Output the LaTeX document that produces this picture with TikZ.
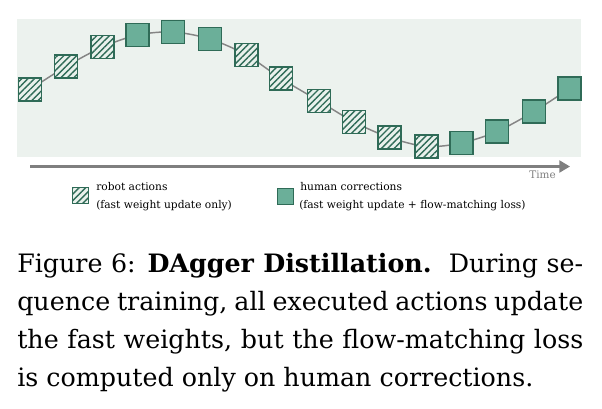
\documentclass[tikz,border=0pt]{standalone}
\usepackage{fontspec}
\setmainfont{DejaVu Serif}
\usetikzlibrary{patterns.meta,arrows.meta,backgrounds}
\definecolor{bgcol}{HTML}{ECF2EE}
\definecolor{sqedge}{HTML}{2F6B57}
\definecolor{solidfill}{HTML}{6BAF99}
\definecolor{hatchbg}{HTML}{E9F1EC}
\definecolor{curvecol}{HTML}{858585}
\definecolor{axiscol}{HTML}{7F7F7F}
\begin{document}
\begin{tikzpicture}[x=0.75pt,y=-0.75pt,
  hatchbox/.style={draw=sqedge, line width=1.1pt, minimum size=17pt, inner sep=0pt,
    preaction={fill=hatchbg},
    pattern={Lines[angle=45,distance=3.4pt,line width=1.05pt]}, pattern color=sqedge},
  solidbox/.style={draw=sqedge, line width=1.1pt, fill=solidfill, minimum size=17pt, inner sep=0pt},
  smallbox/.style={minimum size=12pt, line width=1pt},
  curve/.style={draw=curvecol, line width=1.1pt},
  legtext/.style={anchor=base west, inner sep=0pt, font=\fontsize{8pt}{10pt}\selectfont},
  captext/.style={anchor=base west, inner sep=0pt, font=\fontsize{19pt}{28.5pt}\selectfont}
]
\useasboundingbox (0,0) rectangle (602,408);
% squares
\node[hatchbox] (s1) at (30,89.5) {};
\node[hatchbox] (s2) at (66,66.5) {};
\node[hatchbox] (s3) at (102.5,47) {};
\node[solidbox] (s4) at (137.5,35) {};
\node[solidbox] (s5) at (173,32) {};
\node[solidbox] (s6) at (210,39) {};
\node[hatchbox] (s7) at (246.5,55) {};
\node[hatchbox] (s8) at (281,78.5) {};
\node[hatchbox] (s9) at (319,101) {};
\node[hatchbox] (s10) at (354,122) {};
\node[hatchbox] (s11) at (389.5,137.5) {};
\node[hatchbox] (s12) at (426.5,146.5) {};
\node[solidbox] (s13) at (461.5,143) {};
\node[solidbox] (s14) at (497,131.5) {};
\node[solidbox] (s15) at (534,111.5) {};
\node[solidbox] (s16) at (569.5,88.5) {};
\begin{scope}[on background layer]
  \fill[bgcol] (17,19) rectangle (581,157);
  \draw[curve] plot[smooth, tension=0.5] coordinates {(s1) (s2) (s3) (s4) (s5) (s6) (s7) (s8) (s9) (s10) (s11) (s12) (s13) (s14) (s15) (s16)};
\end{scope}
% time axis
\coordinate (tstart) at (30,166.5);
\coordinate (tend) at (570,166.5);
\draw[draw=axiscol, line width=1.6pt, -{Triangle[length=8pt,width=9pt]}] (tstart) -- (tend);
\node[anchor=base east, inner sep=0pt, text=axiscol, font=\fontsize{7.8pt}{9pt}\selectfont] (time) at (556,178) {Time};
% legend
\node[hatchbox, smallbox] (lh) at (80.7,195.5) {};
\node[legtext] (lh1) at (96,190) {robot actions};
\node[legtext] (lh2) at (96,208.3) {(fast weight update only)};
\node[solidbox, smallbox] (ls) at (285.3,196.3) {};
\node[legtext] (ls1) at (300,190) {human corrections};
\node[legtext] (ls2) at (299,208.3) {(fast weight update + flow-matching loss)};
% caption
\node[captext] (c1) at (17,272) {\makebox[424.5pt][s]{Figure 6: \textbf{DAgger Distillation.}\ \ During se-}};
\node[captext] (c2) at (17,310) {\makebox[424.5pt][s]{quence training, all executed actions update}};
\node[captext] (c3) at (17,348) {\makebox[424.5pt][s]{the fast weights, but the flow-matching loss}};
\node[captext] (c4) at (17,386) {is computed only on human corrections.};
\end{tikzpicture}
\end{document}
